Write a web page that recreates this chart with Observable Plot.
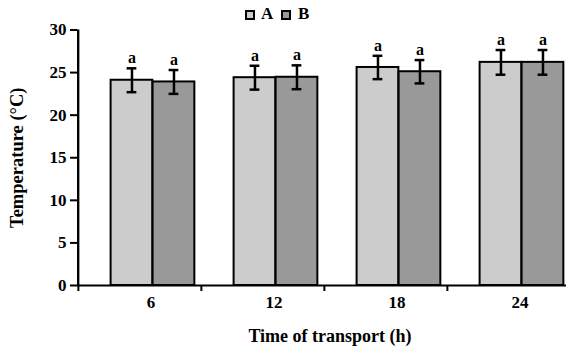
<!DOCTYPE html>
<html><head><meta charset="utf-8">
<script src="https://cdn.jsdelivr.net/npm/d3@7"></script>
<script src="https://cdn.jsdelivr.net/npm/@observablehq/plot@0.6"></script>
<style>
body{margin:0;background:#fff;font-family:"Liberation Serif","Times New Roman","DejaVu Serif",serif;width:566px;height:349px;overflow:hidden;}
#legend{position:absolute;left:0;top:0;width:566px;height:22px;font-weight:bold;font-size:17px;z-index:2;}
#legend .item{position:absolute;top:5px;line-height:17px;}
#legend .sw{position:absolute;top:10px;width:6px;height:6px;border:2px solid #000;}
#xlabel{position:absolute;left:0;top:325px;width:566px;height:24px;text-align:center;font-size:18px;font-weight:bold;line-height:22px;}
#xlabel span{position:relative;left:47px;}
#chart{position:absolute;left:0;top:12px;}
#chart svg text{font-family:"Liberation Serif","Times New Roman","DejaVu Serif",serif !important;}
#chart svg [aria-label="y-axis label"] text{font-size:18.5px;}
</style></head><body>
<div id="legend"></div>
<div id="chart"></div>
<div id="xlabel"><span>Time of transport (h)</span></div>
<script>
const times = [6, 12, 18, 24];
const seriesNames = ["A", "B"];
const valuesA = [24.1, 24.4, 25.6, 26.2];
const valuesB = [23.9, 24.45, 25.1, 26.2];
const errorsA = [1.4, 1.4, 1.37, 1.45];
const errorsB = [1.4, 1.4, 1.37, 1.45];
const lettersA = ["a", "a", "a", "a"];
const lettersB = ["a", "a", "a", "a"];
const yTicks = [0, 5, 10, 15, 20, 25, 30];
const colors = ["#cccccc", "#999999"];

const rows = [];
times.forEach((t, i) => {
  rows.push({time: t, series: "A", value: valuesA[i], err: errorsA[i], sig: lettersA[i]});
  rows.push({time: t, series: "B", value: valuesB[i], err: errorsB[i], sig: lettersB[i]});
});

// legend
const legend = document.getElementById("legend");
const legendPos = [[245, 261], [281, 298]];
seriesNames.forEach((s, i) => {
  const sw = document.createElement("div");
  sw.className = "sw";
  sw.style.left = legendPos[i][0] + "px";
  sw.style.background = colors[i];
  legend.appendChild(sw);
  const lab = document.createElement("div");
  lab.className = "item";
  lab.style.left = legendPos[i][1] + "px";
  lab.textContent = s;
  legend.appendChild(lab);
});

const serif = "'Liberation Serif', 'Times New Roman', 'DejaVu Serif', serif";
const yDomain = [0, 30];
const xRange = [77, 570];
const bw = (xRange[1] - xRange[0]) / times.length;  // category band width
const barW = 42, gapLeft = 32.6, capW = 10;         // styling within each band

const barMarks = [];
const errMarks = [];
seriesNames.forEach((s, i) => {
  const data = rows.filter(d => d.series === s);
  const left = gapLeft + i * barW;
  const center = left + barW / 2;
  barMarks.push(Plot.barY(data, {x: "time", y: "value", fill: "series", stroke: "#000", strokeWidth: 2,
    insetLeft: left, insetRight: bw - left - barW}));
  errMarks.push(
    Plot.ruleX(data, {x: "time", y1: d => d.value - d.err, y2: d => d.value + d.err, dx: center - bw / 2, stroke: "#000", strokeWidth: 2.5}),
    Plot.tickY(data, {x: "time", y: d => d.value + d.err, insetLeft: center - capW / 2, insetRight: bw - center - capW / 2, stroke: "#000", strokeWidth: 2.5}),
    Plot.tickY(data, {x: "time", y: d => d.value - d.err, insetLeft: center - capW / 2, insetRight: bw - center - capW / 2, stroke: "#000", strokeWidth: 2.5}),
    Plot.text(data, {x: "time", y: d => d.value + d.err, text: "sig", dx: center - bw / 2, dy: -5, lineAnchor: "bottom", fontSize: 16, fontWeight: "bold"})
  );
});

const chart = Plot.plot({
  width: 566,
  height: 310,
  marginLeft: 77,
  marginRight: 0,
  marginTop: 17.5,
  marginBottom: 37,
  style: {fontFamily: serif, fontSize: "17px", fontWeight: "bold", color: "#000", background: "transparent"},
  x: {type: "band", domain: times, range: xRange, padding: 0},
  y: {domain: yDomain, ticks: yTicks, tickSize: 7, tickPadding: 4, line: true,
      label: "Temperature (°C)", labelAnchor: "center", labelOffset: 68, labelArrow: "none"},
  color: {domain: seriesNames, range: colors},
  marks: [
    ...barMarks,
    ...errMarks,
    Plot.ruleY([0], {stroke: "#000", strokeWidth: 2}),
    // y-axis line at the left edge of the first category band
    Plot.ruleX([times[0]], {x: d => d, y1: yDomain[0], y2: yDomain[1], dx: -bw / 2, stroke: "#000", strokeWidth: 2}),
    Plot.axisX({anchor: "bottom", tickSize: 0, tickPadding: 10, dx: 11, label: null, fontSize: 17, fontWeight: "bold"}),
    Plot.axisX({anchor: "bottom", tickSize: 6, tickFormat: () => "", dx: -bw / 2, label: null, strokeWidth: 2})
  ]
});
chart.querySelectorAll('[aria-label="y-axis tick"], [aria-label="y-axis line"]').forEach(g => g.setAttribute("stroke-width", 2));
document.getElementById("chart").appendChild(chart);
</script>
</body></html>
